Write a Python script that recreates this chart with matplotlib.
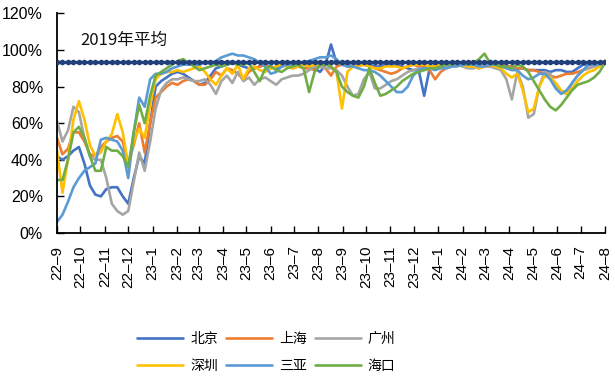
import matplotlib
matplotlib.use("Agg")
import matplotlib.pyplot as plt
import pandas as pd

# Weekly hotel occupancy relative to 2019 (%), Sep 2022 - Aug 2024
weeks = pd.date_range("2022-09-01", periods=101, freq="7D")

beijing = [42, 40, 42, 45, 47, 38, 26, 21, 20, 24, 25, 25, 20, 16,
           30, 42, 38, 60, 80, 83, 85, 87,
           88, 87, 85, 83, 81, 82, 86, 90, 91,
           92, 93, 92, 91, 90, 90, 91, 92, 91, 90, 91, 92, 93, 93, 92,
           91, 90, 88, 92, 103, 93, 92,
           92, 91, 92, 93, 92, 91, 91, 92, 92, 92, 91, 90, 89, 89,
           75, 90, 92, 92,
           92, 93, 93, 93, 92, 92, 92, 92, 91, 92, 92, 91,
           91, 90, 90, 89, 89, 89, 89, 88, 89, 89, 88, 88, 90, 92, 92, 91, 92, 94]

shanghai = [52, 43, 46, 55, 55, 50, 43, 42, 47, 50, 52, 53, 50, 38,
            48, 60, 44, 60, 74, 77, 80, 82,
            81, 83, 84, 83, 81, 81, 84, 88, 86,
            90, 89, 87, 84, 88, 90, 91, 92, 90, 91, 92, 91, 90, 91, 90,
            90, 89, 91, 90, 86, 91, 92,
            91, 91, 92, 92, 91, 90, 89, 88, 87, 88, 90, 91, 92, 91,
            91, 89, 84, 88,
            90, 91, 92, 92, 91, 91, 90, 91, 91, 92, 92, 91,
            91, 90, 90, 89, 89, 88, 87, 86, 85, 86, 87, 87, 88, 89, 90, 91, 92, 94]

guangzhou = [61, 50, 56, 69, 66, 52, 42, 40, 40, 30, 16, 12, 10, 12,
             28, 44, 34, 50, 68, 78, 82, 84,
             84, 85, 84, 83, 83, 84, 81, 76, 83,
             86, 82, 88, 83, 85, 81, 84, 85, 83, 81, 84, 85, 86, 86, 87,
             89, 91, 91, 90, 90, 89, 86,
             80, 75, 76, 84, 88, 79, 79, 81, 83, 84, 86, 88, 89, 90,
             90, 90, 91, 91,
             91, 92, 92, 91, 90, 90, 91, 92, 91, 90, 89, 84,
             73, 88, 80, 63, 65, 80, 88, 87, 80, 77, 76, 82, 86, 89, 90, 91, 92, 94]

shenzhen = [45, 22, 40, 62, 72, 62, 48, 42, 44, 50, 54, 65, 55, 37,
            50, 57, 52, 70, 84, 87, 88, 88,
            89, 88, 89, 90, 91, 88, 84, 81, 86,
            90, 87, 92, 84, 90, 91, 89, 88, 90, 91, 92, 91, 90, 91, 92,
            91, 92, 92, 93, 91, 88, 68,
            88, 91, 91, 92, 91, 90, 90, 91, 91, 91, 90, 91, 92, 92,
            92, 91, 91, 92,
            92, 93, 93, 92, 91, 91, 90, 91, 92, 91, 90, 87,
            85, 87, 78, 66, 68, 80, 86, 85, 82, 78, 76, 79, 83, 86, 88, 89, 91, 94]

sanya = [6, 10, 17, 25, 30, 34, 36, 38, 51, 52, 51, 50, 45, 30,
         55, 74, 69, 84, 87, 87, 88, 90,
         91, 92, 92, 92, 92, 93, 93, 94, 96,
         97, 98, 97, 97, 96, 95, 93, 91, 87, 88, 91, 92, 92, 93, 93,
         94, 95, 96, 96, 97, 95, 92,
         91, 91, 90, 89, 89, 88, 86, 83, 80, 77, 77, 80, 86, 89,
         90, 90, 89, 90,
         90, 91, 91, 92, 92, 92, 91, 91, 92, 92, 91, 90,
         89, 89, 86, 84, 85, 87, 87, 84, 79, 76, 78, 82, 86, 89, 92, 92, 92, 94]

haikou = [29, 29, 40, 55, 58, 52, 42, 34, 34, 47, 45, 45, 42, 36,
          55, 70, 60, 75, 86, 88, 90, 92,
          94, 95, 93, 91, 89, 90, 91, 92, 91,
          92, 93, 92, 92, 93, 88, 83, 90, 91, 89, 88, 90, 91, 92, 90,
          77, 88, 92, 92, 91, 88, 80,
          77, 75, 74, 80, 90, 82, 75, 76, 78, 80, 83, 85, 87, 88,
          89, 90, 90, 91,
          92, 92, 93, 93, 92, 93, 95, 98, 93, 92, 91, 91,
          90, 92, 91, 88, 83, 78, 73, 69, 67, 70, 74, 78, 81, 82, 83, 85, 88, 93]

avg_2019 = 93.6

cities = ["北京", "上海", "广州", "深圳", "三亚", "海口"]
series = [beijing, shanghai, guangzhou, shenzhen, sanya, haikou]
colors = ["#4472C4", "#ED7D31", "#A5A5A5", "#FFC000", "#5B9BD5", "#70AD47"]

month_ticks = pd.date_range("2022-09-01", "2024-08-01", freq="MS")
month_labels = ["22–9", "22–10", "22–11", "22–12", "23–1", "23–2", "23–3", "23–4",
                "23–5", "23–6", "23–7", "23–8", "23–9", "23–10", "23–11", "23–12",
                "24–1", "24–2", "24–3", "24–4", "24–5", "24–6", "24–7", "24–8"]

cjk = ["Noto Sans CJK SC", "DejaVu Sans"]

fig = plt.figure(figsize=(6.15, 3.78), dpi=100)
ax = fig.add_axes([57 / 615, 1 - 233 / 378, 548 / 615, 219.6 / 378])

handles = {}
for name, vals, col in zip(cities, series, colors):
    (ln,) = ax.plot(weeks, vals, color=col, lw=1.9, solid_joinstyle="round",
                    solid_capstyle="round", label=name)
    handles[name] = ln

ax.plot(weeks, [avg_2019] * len(weeks), color="#22407A", lw=2.2,
        marker="o", markersize=4, markeredgewidth=0, zorder=5)

ax.text(0.042, 0.879, "2019年平均", transform=ax.transAxes, ha="left",
        va="center", fontsize=12, family=cjk, color="#111111")

ax.set_xlim(month_ticks[0], month_ticks[-1])
ax.set_ylim(0, 120)
ax.set_yticks(range(0, 121, 20))
ax.set_yticklabels([f"{v}%" for v in range(0, 121, 20)])
ax.set_xticks(month_ticks)
ax.set_xticklabels(month_labels, rotation=90, family="Liberation Sans",
                   fontsize=11)
for lab in ax.get_yticklabels():
    lab.set_family("Liberation Sans")
    lab.set_fontsize(11.5)

ax.tick_params(axis="both", direction="in", length=5, width=1, color="black")
ax.tick_params(axis="x", pad=9)
ax.tick_params(axis="y", pad=10)
for s in ("top", "right"):
    ax.spines[s].set_visible(False)
for s in ("left", "bottom"):
    ax.spines[s].set_linewidth(1.3)
    ax.spines[s].set_color("black")

order = ["北京", "深圳", "上海", "三亚", "广州", "海口"]
fig.legend([handles[n] for n in order], order, ncol=3, loc="center",
           bbox_to_anchor=(266.5 / 615, 1 - 352.5 / 378),
           frameon=False, prop={"family": cjk, "size": 10},
           handlelength=3.3, handletextpad=0.5, columnspacing=0.6,
           labelspacing=0.9, borderpad=0.2)

fig.savefig("out.png", dpi=100)
